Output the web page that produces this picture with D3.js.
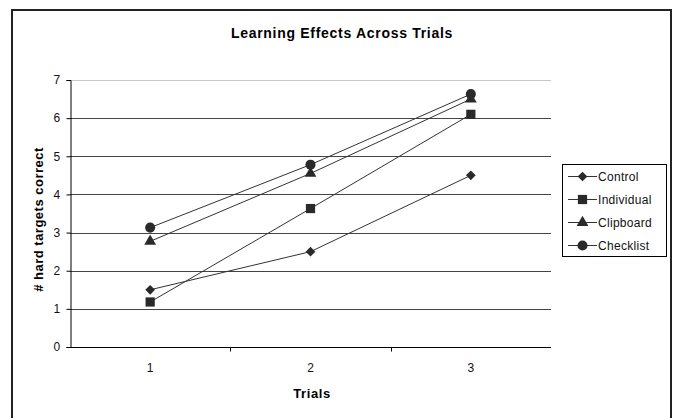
<!DOCTYPE html>
<html>
<head>
<meta charset="utf-8">
<script src="https://cdn.jsdelivr.net/npm/d3@7"></script>
<style>
  html, body { margin: 0; padding: 0; background: #fff; }
  svg { display: block; font-family: "Liberation Sans", Arial, sans-serif; }
</style>
</head>
<body>
<svg id="chart" width="673" height="418"></svg>
<script>
// Trial numbers along the x axis
const trials = ["1", "2", "3"];
// Series names and their marker shapes
const seriesNames = ["Control", "Individual", "Clipboard", "Checklist"];
const seriesShapes = ["diamond", "square", "triangle", "circle"];
// Mean number of hard targets correct per trial
const controlValues = [1.5, 2.5, 4.5];
const individualValues = [1.18, 3.63, 6.1];
const clipboardValues = [2.77, 4.55, 6.5];
const checklistValues = [3.13, 4.78, 6.63];
const yTicks = [0, 1, 2, 3, 4, 5, 6, 7];

const seriesValues = [controlValues, individualValues, clipboardValues, checklistValues];

const svg = d3.select("#chart");
const plot = { left: 70, right: 551, top: 80, bottom: 347 };
const labelFont = { size: 12, spacing: 0.3 };

// Outer chart frame
svg.append("rect")
  .attr("x", 12).attr("y", 10)
  .attr("width", 659).attr("height", 420)
  .attr("fill", "#fff").attr("stroke", "#222").attr("stroke-width", 2);

const x = d3.scaleBand().domain(trials).range([plot.left, plot.right]);
const y = d3.scaleLinear().domain([0, 7]).range([plot.bottom, plot.top]);

// Horizontal gridlines
svg.append("g").selectAll("line")
  .data(yTicks.filter(d => d > 0))
  .join("line")
  .attr("x1", plot.left).attr("x2", plot.right)
  .attr("y1", d => Math.round(y(d)) + 0.5).attr("y2", d => Math.round(y(d)) + 0.5)
  .attr("stroke", d => d === 7 ? "#c8c8c8" : "#444")
  .attr("stroke-width", 1);

// Y axis
const yAxis = svg.append("g")
  .attr("transform", `translate(${plot.left + 0.5},0)`)
  .call(d3.axisLeft(y).tickValues(yTicks).tickSize(4).tickPadding(6).tickFormat(d3.format("d")));
yAxis.select(".domain").attr("stroke", "#000");
yAxis.selectAll(".tick line").attr("stroke", "#000");
yAxis.selectAll("text")
  .attr("font-size", labelFont.size).attr("letter-spacing", labelFont.spacing)
  .attr("fill", "#111")
  .attr("font-family", "Liberation Sans, Arial, sans-serif");

// X axis: ticks sit on category boundaries
const xAxisG = svg.append("g").attr("transform", `translate(0,${plot.bottom + 0.5})`);
xAxisG.append("line")
  .attr("x1", plot.left).attr("x2", plot.right)
  .attr("stroke", "#000");
xAxisG.selectAll("line.bound")
  .data(trials.slice(1))
  .join("line").attr("class", "bound")
  .attr("x1", d => Math.round(x(d)) + 0.5).attr("x2", d => Math.round(x(d)) + 0.5)
  .attr("y1", 0).attr("y2", 4)
  .attr("stroke", "#000");
xAxisG.selectAll("text")
  .data(trials)
  .join("text")
  .attr("x", d => x(d) + x.bandwidth() / 2)
  .attr("y", 24)
  .attr("text-anchor", "middle")
  .attr("font-size", labelFont.size).attr("fill", "#111")
  .text(d => d);

// Titles
svg.append("text")
  .attr("x", 342).attr("y", 38)
  .attr("text-anchor", "middle")
  .attr("font-size", 14).attr("font-weight", "bold").attr("letter-spacing", 0.7)
  .text("Learning Effects Across Trials");

svg.append("text")
  .attr("x", 312).attr("y", 398)
  .attr("text-anchor", "middle")
  .attr("font-size", 13).attr("font-weight", "bold").attr("letter-spacing", 0.6)
  .text("Trials");

svg.append("text")
  .attr("transform", `translate(43,${(plot.top + plot.bottom) / 2 + 6}) rotate(-90)`)
  .attr("text-anchor", "middle")
  .attr("font-size", 13).attr("font-weight", "bold").attr("letter-spacing", 0.5)
  .text("# hard targets correct");

// Marker symbols
const symbolFor = {
  diamond: d3.symbol().type(d3.symbolDiamond2).size(60),
  square: d3.symbol().type(d3.symbolSquare).size(85),
  triangle: d3.symbol().type(d3.symbolTriangle).size(60),
  circle: d3.symbol().type(d3.symbolCircle).size(80)
};

const cx = d => x(d) + x.bandwidth() / 2;
const line = d3.line().x(d => cx(d.t)).y(d => y(d.v));

const series = seriesNames.map((name, i) => ({
  name, shape: seriesShapes[i],
  points: trials.map((t, j) => ({ t, v: seriesValues[i][j] }))
}));

const sg = svg.append("g").selectAll("g").data(series).join("g");
sg.append("path")
  .attr("d", s => line(s.points))
  .attr("fill", "none").attr("stroke", "#333").attr("stroke-width", 1);
sg.selectAll("path.mark")
  .data(s => s.points.map(p => ({ ...p, shape: s.shape })))
  .join("path").attr("class", "mark")
  .attr("transform", d => `translate(${cx(d.t)},${y(d.v)})`)
  .attr("d", d => symbolFor[d.shape]())
  .attr("fill", "#2a2a2a");

// Legend
const lg = svg.append("g");
lg.append("rect")
  .attr("x", 562.5).attr("y", 164.5).attr("width", 104).attr("height", 92)
  .attr("fill", "#fff").attr("stroke", "#000").attr("stroke-width", 1);
const rows = lg.selectAll("g.row").data(series).join("g").attr("class", "row")
  .attr("transform", (d, i) => `translate(0,${176 + i * 23})`);
rows.append("line")
  .attr("x1", 568).attr("x2", 597).attr("y1", 0.5).attr("y2", 0.5)
  .attr("stroke", "#333");
rows.append("path")
  .attr("transform", "translate(582.5,0.5)")
  .attr("d", d => symbolFor[d.shape]())
  .attr("fill", "#2a2a2a");
rows.append("text")
  .attr("x", 598).attr("y", 5)
  .attr("font-size", labelFont.size).attr("letter-spacing", labelFont.spacing)
  .attr("fill", "#111")
  .text(d => d.name);
</script>
</body>
</html>
